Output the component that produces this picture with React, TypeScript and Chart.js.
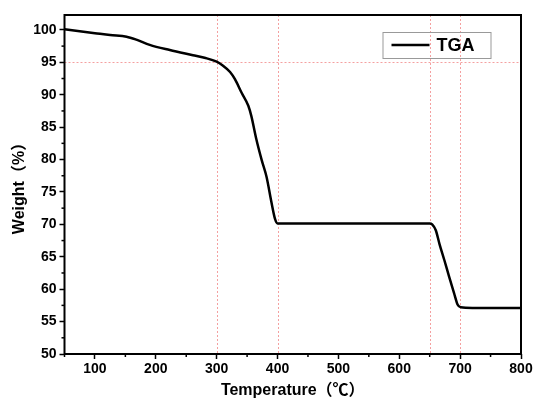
import React, { useEffect, useRef } from "react";
import { Chart, registerables } from "chart.js";

Chart.register(...registerables);

const temperatures = [50, 75, 100, 125, 152, 168, 190, 223, 261, 280, 300, 310, 322, 330, 341, 352, 357, 365, 374, 382, 390, 396, 400, 450, 500, 550, 600, 650, 654, 660, 666, 674, 682, 690, 696, 701, 720, 800];
const weights = [100.1, 99.8, 99.5, 99.2, 98.95, 98.5, 97.7, 96.9, 96.1, 95.7, 95.1, 94.5, 93.5, 92.4, 90.3, 88.3, 86.7, 83.2, 79.9, 77.3, 73.4, 70.8, 70.15, 70.15, 70.15, 70.15, 70.15, 70.15, 70.0, 69.1, 67.0, 64.5, 61.9, 59.4, 57.6, 57.2, 57.1, 57.1];

const xTicks = [100, 200, 300, 400, 500, 600, 700, 800];
const xMinorTicks = [50, 150, 250, 350, 450, 550, 650, 750];
const yTicks = [50, 55, 60, 65, 70, 75, 80, 85, 90, 95, 100];
const yMinorTicks = [52.5, 57.5, 62.5, 67.5, 72.5, 77.5, 82.5, 87.5, 92.5, 97.5];
const refLinesX = [300, 400, 650, 700];
const refLinesY = [95];
const seriesLabel = "TGA";

const FONT = "'Liberation Sans', Arial, 'Noto Sans CJK SC', sans-serif";

const framePlugin = {
  id: "frame",
  beforeDatasetsDraw(chart: any) {
    const { ctx, chartArea: a, scales } = chart;
    ctx.save();
    ctx.strokeStyle = "#f4a0a0";
    ctx.lineWidth = 1;
    ctx.setLineDash([2, 2]);
    refLinesX.forEach((v) => {
      const x = Math.round(scales.x.getPixelForValue(v)) + 0.5;
      ctx.beginPath();
      ctx.moveTo(x, a.top);
      ctx.lineTo(x, a.bottom);
      ctx.stroke();
    });
    refLinesY.forEach((v) => {
      const y = Math.round(scales.y.getPixelForValue(v)) + 0.5;
      ctx.beginPath();
      ctx.moveTo(a.left, y);
      ctx.lineTo(a.right, y);
      ctx.stroke();
    });
    ctx.restore();
  },
  afterDraw(chart: any) {
    const { ctx, chartArea: a, scales } = chart;
    ctx.save();
    ctx.strokeStyle = "#000";
    ctx.lineWidth = 2;
    ctx.setLineDash([]);
    ctx.strokeRect(a.left, a.top, a.right - a.left, a.bottom - a.top);
    ctx.lineWidth = 1.5;
    xMinorTicks.forEach((v) => {
      const x = scales.x.getPixelForValue(v);
      ctx.beginPath();
      ctx.moveTo(x, a.bottom);
      ctx.lineTo(x, a.bottom + 3);
      ctx.stroke();
    });
    yMinorTicks.forEach((v) => {
      const y = scales.y.getPixelForValue(v);
      ctx.beginPath();
      ctx.moveTo(a.left, y);
      ctx.lineTo(a.left - 3, y);
      ctx.stroke();
    });
    // legend
    const lx = a.left + 318;
    const ly = a.top + 17;
    const lw = 108;
    const lh = 26;
    ctx.strokeStyle = "#999";
    ctx.lineWidth = 1;
    ctx.strokeRect(lx + 0.5, ly + 0.5, lw, lh);
    ctx.strokeStyle = "#000";
    ctx.lineWidth = 2.5;
    ctx.beginPath();
    ctx.moveTo(lx + 9, ly + 13);
    ctx.lineTo(lx + 47, ly + 13);
    ctx.stroke();
    ctx.fillStyle = "#000";
    ctx.font = `bold 18px ${FONT}`;
    ctx.textBaseline = "middle";
    ctx.textAlign = "left";
    ctx.fillText(seriesLabel, lx + 54, ly + 14);
    ctx.restore();
  },
};

export default function App() {
  const ref = useRef<HTMLCanvasElement>(null);
  useEffect(() => {
    if (!ref.current) return;
    const chart = new Chart(ref.current, {
      type: "line",
      data: {
        datasets: [
          {
            label: seriesLabel,
            data: temperatures.map((t, i) => ({ x: t, y: weights[i] })),
            borderColor: "#000",
            borderWidth: 2.5,
            pointRadius: 0,
            cubicInterpolationMode: "monotone",
            fill: false,
          },
        ],
      },
      options: {
        animation: false,
        responsive: false,
        layout: { padding: { top: 15, right: 15, left: 6, bottom: 0 } },
        plugins: { legend: { display: false }, tooltip: { enabled: false } },
        scales: {
          x: {
            type: "linear",
            min: 50,
            max: 800,
            afterBuildTicks: (s: any) => {
              s.ticks = xTicks.map((v) => ({ value: v }));
            },
            afterFit: (s: any) => {
              s.height = 50;
            },
            grid: { drawOnChartArea: false, tickLength: 5, tickColor: "#000", tickWidth: 1.5 },
            border: { display: false },
            ticks: { color: "#000", font: { family: FONT, size: 14, weight: "bold" }, padding: 2, maxRotation: 0 },
            title: { display: true, text: "Temperature（℃）", color: "#000", font: { family: FONT, size: 16, weight: "bold" }, padding: { top: 1 } },
          },
          y: {
            type: "linear",
            min: 50,
            max: 102.3,
            afterBuildTicks: (s: any) => {
              s.ticks = yTicks.map((v) => ({ value: v }));
            },
            afterFit: (s: any) => {
              s.width = 58.5;
            },
            grid: { drawOnChartArea: false, tickLength: 5, tickColor: "#000", tickWidth: 1.5 },
            border: { display: false },
            ticks: { color: "#000", font: { family: FONT, size: 14, weight: "bold" }, padding: 3 },
            title: { display: true, text: "Weight（%）", color: "#000", font: { family: FONT, size: 16, weight: "bold" }, padding: { bottom: 2 } },
          },
        },
      },
      plugins: [framePlugin],
    } as any);
    return () => chart.destroy();
  }, []);
  return (
    <div style={{ position: "fixed", left: 0, top: 0, width: 536, height: 404, background: "#fff" }}>
      <canvas ref={ref} width={536} height={404} />
    </div>
  );
}
